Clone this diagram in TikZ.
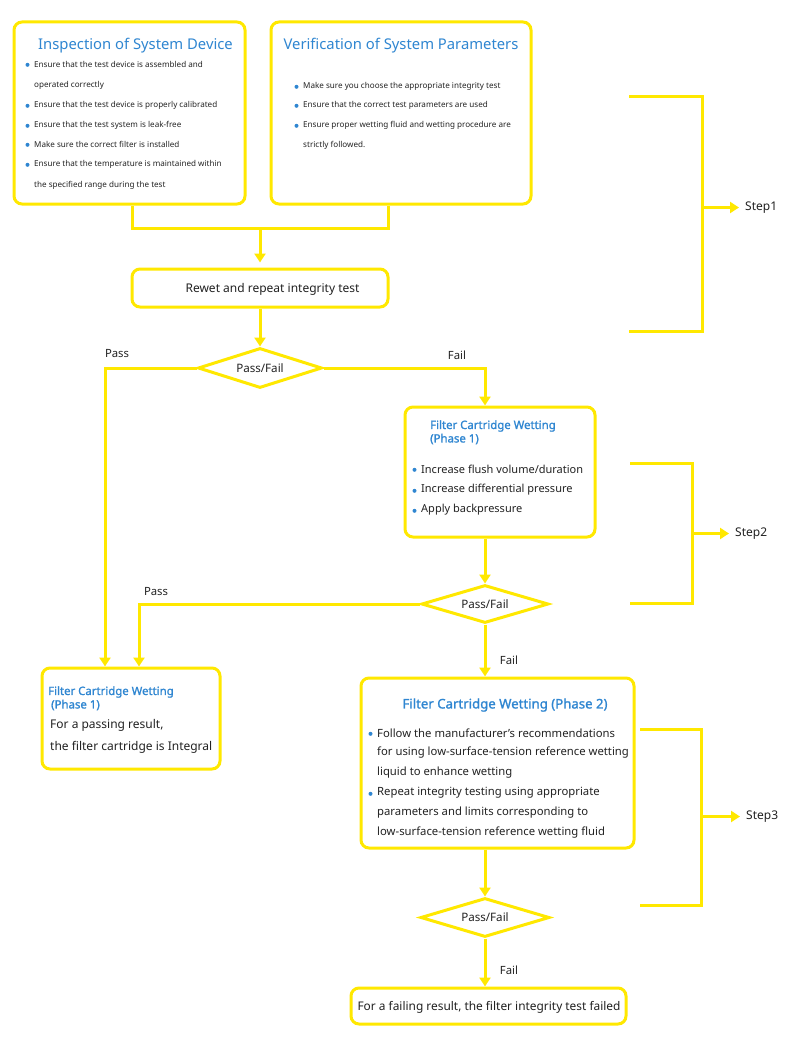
\documentclass[tikz,border=0pt]{standalone}
\usepackage{fontspec}
\setmainfont{Noto Sans}
\newfontfamily\tbold[FakeBold=1.3]{Noto Sans}
\usetikzlibrary{arrows.meta,shapes.geometric}
\definecolor{yel}{HTML}{FFE800}
\definecolor{ttl}{HTML}{2F86D1}
\definecolor{ink}{HTML}{222222}
\newcommand\bdot[1]{\fill[ttl] ([xshift=-6.5pt,yshift=-0.8pt]#1.west) circle (2pt);}
\begin{document}
\begin{tikzpicture}[x=1pt,y=-1pt,
  ln/.style={draw=yel,line width=3pt},
  arr/.style={ln,-{Triangle[width=11pt,length=9pt]}},
  box/.style={draw=yel,line width=3pt,rounded corners=8pt,inner sep=0pt},
  dia/.style={diamond,aspect=3,draw=yel,line width=3pt,inner sep=0pt,text=ink,font=\fontsize{11.6}{13}\selectfont},
  itmA/.style={anchor=west,inner sep=0pt,text=ink,font=\fontsize{8.1}{9}\selectfont},
  itmB/.style={anchor=west,inner sep=0pt,text=ink,font=\fontsize{11}{13}\selectfont},
  ttlA/.style={inner sep=0pt,text=ttl,font=\fontsize{14.8}{16}\selectfont},
  ttlB/.style={anchor=west,inner sep=0pt,text=ttl,font=\tbold\fontsize{11.4}{12}\selectfont},
  lab/.style={inner sep=0pt,text=ink,font=\fontsize{11.3}{13}\selectfont}
]
\useasboundingbox[fill=white] (0,0) rectangle (806,1038);

% boxes
\node[box,minimum width=231pt,minimum height=182pt] (insp) at (129.5,113) {};
\node[box,minimum width=260pt,minimum height=182pt] (verif) at (401,113) {};
\node[box,minimum width=256pt,minimum height=38pt] (rewet) at (260,288) {};
\node[dia,minimum width=124pt,minimum height=40pt] (d1) at (260,368) {Pass/Fail};
\node[box,minimum width=190pt,minimum height=130pt] (p1) at (500,472) {};
\node[dia,minimum width=127pt,minimum height=38pt] (d2) at (485,604) {Pass/Fail};
\node[box,minimum width=178pt,minimum height=101pt] (pass) at (131,718.5) {};
\node[box,minimum width=273pt,minimum height=170pt] (p2) at (497.5,763) {};
\node[dia,minimum width=129pt,minimum height=39pt] (d3) at (485,917.5) {Pass/Fail};
\node[box,minimum width=275pt,minimum height=36pt] (fin) at (488.5,1006) {};

% box 1 text
\node[ttlA] (t1) at (135.5,46) {Inspection of System Device};
\node[itmA] (a1) at (34,64) {Ensure that the test device is assembled and};
\node[itmA] (a2) at (34,85) {operated correctly};
\node[itmA] (a3) at (34,105) {Ensure that the test device is properly calibrated};
\node[itmA] (a4) at (34,125) {Ensure that the test system is leak-free};
\node[itmA] (a5) at (34,144) {Make sure the correct filter is installed};
\node[itmA] (a6) at (34,164) {Ensure that the temperature is maintained within};
\node[itmA] (a7) at (34,185) {the specified range during the test};
\bdot{a1}\bdot{a3}\bdot{a4}\bdot{a5}\bdot{a6}

% box 2 text
\node[ttlA] (t2) at (401,46) {Verification of System Parameters};
\node[itmA] (b1) at (303,86) {Make sure you choose the appropriate integrity test};
\node[itmA] (b2) at (303,105) {Ensure that the correct test parameters are used};
\node[itmA] (b3) at (303,125) {Ensure proper wetting fluid and wetting procedure are};
\node[itmA] (b4) at (303,145) {strictly followed.};
\bdot{b1}\bdot{b2}\bdot{b3}

% rewet
\node[lab,font=\fontsize{12}{13}\selectfont] (rw) at (272.5,289) {Rewet and repeat integrity test};

% phase 1
\node[ttlB] (t3) at (430,426) {Filter Cartridge Wetting};
\node[ttlB] (t3b) at (430,439) {(Phase 1)};
\node[itmB] (c1) at (421,469) {Increase flush volume/duration};
\node[itmB] (c2) at (421,490) {Increase differential pressure};
\node[itmB] (c3) at (421,510) {Apply backpressure};
\bdot{c1}\bdot{c2}\bdot{c3}

% pass box
\node[ttlB] (t4) at (48,692) {Filter Cartridge Wetting};
\node[ttlB] (t4b) at (51,705) {(Phase 1)};
\node[itmB,font=\fontsize{12}{13}\selectfont] (e1) at (50,725) {For a passing result,};
\node[itmB,font=\fontsize{12}{13}\selectfont] (e2) at (50,747) {the filter cartridge is Integral};

% phase 2
\node[ttlB,anchor=center,font=\tbold\fontsize{13.2}{14}\selectfont] (t5) at (505,705) {Filter Cartridge Wetting (Phase 2)};
\node[itmB,font=\fontsize{11.3}{13}\selectfont] (f1) at (377,733) {Follow the manufacturer’s recommendations};
\node[itmB,font=\fontsize{11.3}{13}\selectfont] (f2) at (377,753) {for using low-surface-tension reference wetting};
\node[itmB,font=\fontsize{11.3}{13}\selectfont] (f3) at (377,773) {liquid to enhance wetting};
\node[itmB,font=\fontsize{11.3}{13}\selectfont] (f4) at (377,793) {Repeat integrity testing using appropriate};
\node[itmB,font=\fontsize{11.3}{13}\selectfont] (f5) at (377,813) {parameters and limits corresponding to};
\node[itmB,font=\fontsize{11.3}{13}\selectfont] (f6) at (377,833) {low-surface-tension reference wetting fluid};
\bdot{f1}\bdot{f4}

% final
\node[itmB,anchor=center,font=\fontsize{11.9}{13}\selectfont] (g1) at (489,1007) {For a failing result, the filter integrity test failed};

% labels
\node[lab] (lp1) at (117,354) {Pass};
\node[lab] (lf1) at (457,355) {Fail};
\node[lab] (lp2) at (156,592) {Pass};
\node[lab] (lf2) at (509,660) {Fail};
\node[lab] (lf3) at (509,970) {Fail};
\node[lab,anchor=west,font=\fontsize{12}{13}\selectfont] (s1) at (745,208) {Step1};
\node[lab,anchor=west,font=\fontsize{12}{13}\selectfont] (s2) at (735,534) {Step2};
\node[lab,anchor=west,font=\fontsize{12}{13}\selectfont] (s3) at (746,817) {Step3};

% connectors
\coordinate (jl) at (132,228);
\coordinate (jm) at (260,228);
\coordinate (jr) at (388,228);
\draw[ln] ([xshift=2.5pt]insp.south) -- (jl) -- (jr) -- ([xshift=-13pt]verif.south);
\draw[arr,shorten >=5pt] (jm) -- (rewet.north);
\draw[arr] (rewet.south) -- (d1.north);
\draw[arr] (d1.west) -| ([xshift=-26pt]pass.north);
\draw[arr] (d1.east) -| ([xshift=-15pt]p1.north);
\draw[arr] ([xshift=-15pt]p1.south) -- (d2.north);
\draw[arr] (d2.west) -| ([xshift=8pt]pass.north);
\draw[arr] (d2.south) -- ([xshift=-12.5pt]p2.north);
\draw[arr] ([xshift=-12.5pt]p2.south) -- (d3.north);
\draw[arr] (d3.south) -- ([xshift=-3.5pt]fin.north);

% step brackets
\coordinate (s1t) at (629,97);
\coordinate (s1b) at (702,331);
\coordinate (s1e) at (629,331);
\coordinate (s1m) at (702,207.5);
\draw[ln] (s1t) -| (s1b) -- (s1e);
\draw[arr,shorten >=6pt] (s1m) -- (s1m -| s1.west);
\coordinate (s2t) at (630,463);
\coordinate (s2b) at (692,603);
\coordinate (s2e) at (630,603);
\coordinate (s2m) at (692,533.5);
\draw[ln] (s2t) -| (s2b) -- (s2e);
\draw[arr,shorten >=6pt] (s2m) -- (s2m -| s2.west);
\coordinate (s3t) at (640,729);
\coordinate (s3b) at (701,905);
\coordinate (s3e) at (640,905);
\coordinate (s3m) at (701,816.5);
\draw[ln] (s3t) -| (s3b) -- (s3e);
\draw[arr,shorten >=6pt] (s3m) -- (s3m -| s3.west);
\end{tikzpicture}
\end{document}
